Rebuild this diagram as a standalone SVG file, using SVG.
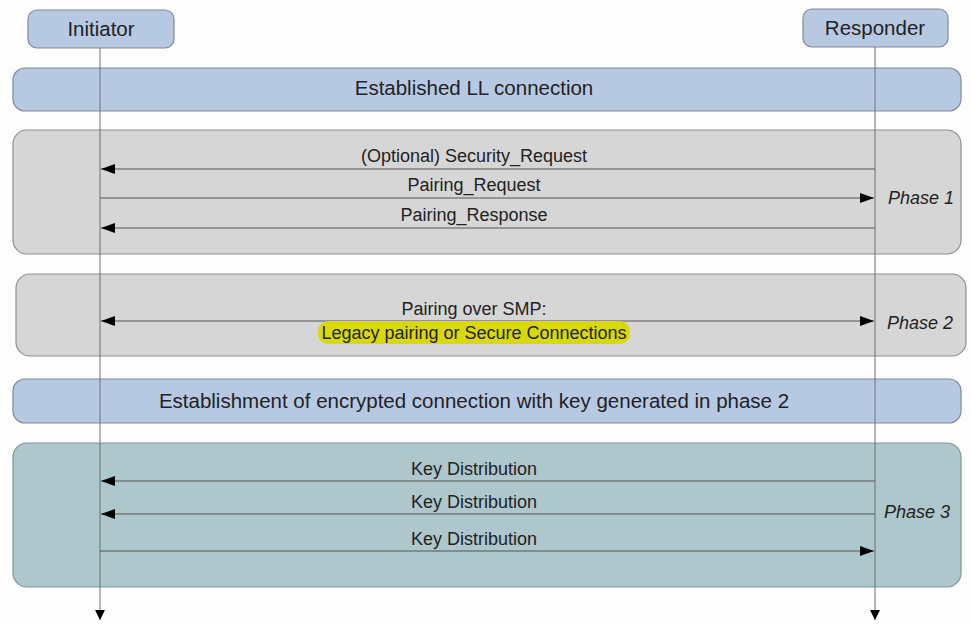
<svg xmlns="http://www.w3.org/2000/svg" width="971" height="624" viewBox="0 0 971 624">
<style>
text{font-family:"Liberation Sans",Arial,sans-serif;fill:#222;}
.actor{fill:#b7c9e2;stroke:#7f8a99;stroke-width:1.2;}
.band{fill:#b7c9e2;stroke:#7f8a99;stroke-width:1.2;}
.phase{fill:#d6d6d6;stroke:#8f8f8f;stroke-width:1.2;}
.phase3{fill:#adc7cc;stroke:#7f9599;stroke-width:1.2;}
.life{stroke:#707070;stroke-width:1;fill:none;}
.msg{stroke:#555;stroke-width:1;fill:none;}
.lbl{font-size:18px;text-anchor:middle;}
.big{font-size:20.5px;text-anchor:middle;}
.ph{font-size:18px;font-style:italic;text-anchor:middle;}
</style>
<defs>
<marker id="ah" viewBox="0 0 14 10" refX="14" refY="5" markerWidth="14" markerHeight="10" markerUnits="userSpaceOnUse" orient="auto-start-reverse">
<path d="M0,0 L14,5 L0,10 Z" fill="#000"/>
</marker>
<marker id="dn" viewBox="0 0 10 10" refX="10" refY="5" markerWidth="10" markerHeight="10" markerUnits="userSpaceOnUse" orient="auto">
<path d="M0,0 L10,5 L0,10 Z" fill="#000"/>
</marker>
</defs>
<rect width="971" height="624" fill="#fdfdfd"/>
<g id="phase1">
<rect class="phase" x="13" y="130" width="948" height="124" rx="14"/>
<text class="ph" x="921" y="204">Phase 1</text>
</g>
<g id="phase2">
<rect class="phase" x="16" y="274" width="950" height="82" rx="14"/>
<text class="ph" x="920" y="329">Phase 2</text>
</g>
<g id="phase3">
<rect class="phase3" x="13" y="443" width="948" height="144" rx="14"/>
<text class="ph" x="917" y="518">Phase 3</text>
</g>
<g id="ll">
<rect class="band" x="13" y="68" width="948" height="43" rx="12"/>
<text class="big" x="474" y="95">Established LL connection</text>
</g>
<g id="enc">
<rect class="band" x="13" y="379" width="948" height="44" rx="12"/>
<text class="big" x="474" y="408">Establishment of encrypted connection with key generated in phase 2</text>
</g>
<g id="initiator">
<rect class="actor" x="28" y="10" width="146" height="38" rx="9"/>
<text class="big" x="101" y="36">Initiator</text>
</g>
<g id="responder">
<rect class="actor" x="803" y="9" width="145" height="38" rx="9"/>
<text class="big" x="875" y="35">Responder</text>
</g>
<g id="connectors">
<line class="life" x1="100" y1="48" x2="100" y2="620" marker-end="url(#dn)"/>
<line class="life" x1="875" y1="47" x2="875" y2="620" marker-end="url(#dn)"/>
<line class="msg" x1="875" y1="169" x2="101" y2="169" marker-end="url(#ah)"/>
<line class="msg" x1="100" y1="198" x2="874" y2="198" marker-end="url(#ah)"/>
<line class="msg" x1="875" y1="228" x2="101" y2="228" marker-end="url(#ah)"/>
<line class="msg" x1="101" y1="321" x2="874" y2="321" marker-start="url(#ah)" marker-end="url(#ah)"/>
<line class="msg" x1="875" y1="481" x2="101" y2="481" marker-end="url(#ah)"/>
<line class="msg" x1="875" y1="514" x2="101" y2="514" marker-end="url(#ah)"/>
<line class="msg" x1="100" y1="551" x2="874" y2="551" marker-end="url(#ah)"/>
</g>
<g id="labels">
<text class="lbl" x="474" y="162">(Optional) Security_Request</text>
<text class="lbl" x="474" y="191">Pairing_Request</text>
<text class="lbl" x="474" y="221">Pairing_Response</text>
<text class="lbl" x="474" y="315">Pairing over SMP:</text>
<rect x="318" y="321" width="312" height="23" rx="10" fill="#d8d80a"/>
<text class="lbl" x="474" y="339">Legacy pairing or Secure Connections</text>
<text class="lbl" x="474" y="475">Key Distribution</text>
<text class="lbl" x="474" y="508">Key Distribution</text>
<text class="lbl" x="474" y="545">Key Distribution</text>
</g>
</svg>
